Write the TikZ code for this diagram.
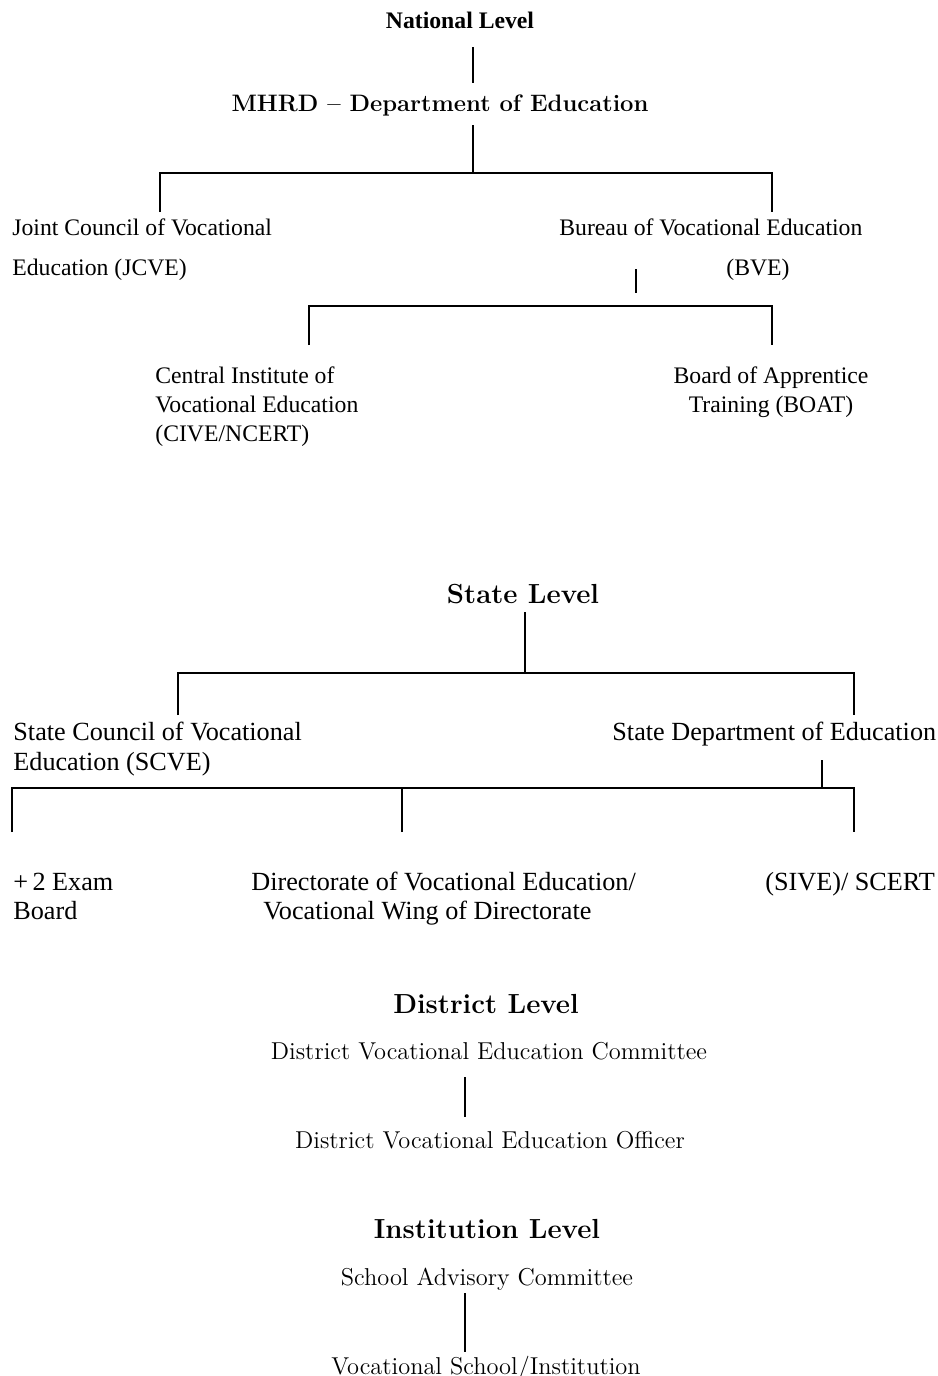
\documentclass[tikz,border=0pt]{standalone}
\usepackage{fontspec}
\newfontfamily\tnr{Liberation Serif}
\usetikzlibrary{positioning}
\tikzset{
  natbold/.style={font=\tnr\bfseries\fontsize{11.85}{14}\selectfont, inner sep=0pt},
  nattext/.style={font=\tnr\fontsize{11.85}{14.5}\selectfont, inner sep=0pt},
  sttext/.style={font=\tnr\fontsize{13.1}{14.5}\selectfont, inner sep=0pt},
  lvltitle/.style={font=\bfseries\fontsize{13.8}{16}\selectfont, inner sep=0pt},
  lmtext/.style={font=\fontsize{12.2}{14}\selectfont, inner sep=0pt},
  link/.style={line width=0.8pt},
  bar/.style={line width=1pt}
}
\begin{document}
\begin{tikzpicture}[x=0.5pt,y=-0.5pt]
\useasboundingbox (0,0) rectangle (937,1376);
% national level
\node[natbold,anchor=base] (nat) at (460,28) {National Level};
\node[font=\bfseries\fontsize{11.9}{14}\selectfont,inner sep=0pt,anchor=base] (mhrd) at (440,111) {MHRD -- Department of Education};
\node[nattext,anchor=base west,align=left,font=\tnr\fontsize{11.85}{20}\selectfont] (jcve) at (12,275) {Joint Council of Vocational\\Education (JCVE)};
\node[nattext,anchor=base west] (bve) at (559,235) {Bureau of Vocational Education};
\node[nattext,anchor=base west] (bveab) at (726,275) {(BVE)};
\node[nattext,anchor=base west,align=left] (cive) at (155,441) {Central Institute of\\Vocational Education\\(CIVE/NCERT)};
\node[nattext,anchor=base,align=center] (boat) at (771,412) {Board of Apprentice\\Training (BOAT)};
\coordinate (n1) at (473,47); \coordinate (n2) at (473,83);
\coordinate (n3) at (473,125); \coordinate (n4) at (473,173);
\coordinate (n5) at (160,212); \coordinate (n6) at (772,212);
\coordinate (b1) at (636,269); \coordinate (b2) at (636,293);
\coordinate (b3) at (636,306);
\coordinate (b4) at (309,345); \coordinate (b5) at (772,345);
\draw[link] (n1) -- (n2);
\draw[link] (n3) -- (n4);
\draw[bar] (n5) |- (n4) -| (n6);
\draw[link] (b1) -- (b2);
\draw[bar] (b4) |- (b3) -| (b5);
% state level
\node[lvltitle,anchor=base] (state) at (523,603) {State Level};
\node[sttext,anchor=base west,align=left,font=\tnr\fontsize{13.1}{15}\selectfont] (scve) at (13,770) {State Council of Vocational\\Education (SCVE)};
\node[sttext,anchor=base west] (sde) at (612,740) {State Department of Education};
\node[sttext,anchor=base west,align=left] (exam) at (13,919) {+\,2 Exam\\Board};
\node[sttext,anchor=base west,align=left] (dve) at (251,919) {Directorate of Vocational Education/\\\hspace*{6pt}Vocational Wing of Directorate};
\node[sttext,anchor=base west] (sive) at (765,890) {(SIVE)/ SCERT};
\coordinate (s1) at (525,612); \coordinate (s2) at (525,673);
\coordinate (s3) at (178,715); \coordinate (s4) at (854,715);
\coordinate (s5) at (822,760); \coordinate (s6) at (822,788);
\coordinate (s7) at (12,832); \coordinate (s8) at (854,832);
\coordinate (s9) at (402,832);
\draw[link] (s1) -- (s2);
\draw[bar] (s3) |- (s2) -| (s4);
\draw[link] (s5) -- (s6);
\draw[bar] (s7) |- (s6) -| (s8);
\draw[link] (s9) -- (s9 |- s6);
% district level
\node[lvltitle,anchor=base] (dist) at (486,1013) {District Level};
\node[lmtext,anchor=base] (dvec) at (489,1059) {District Vocational Education Committee};
\node[lmtext,anchor=base] (dveo) at (490,1148) {District Vocational Education Officer};
\coordinate (d1) at (465,1077); \coordinate (d2) at (465,1117);
\draw[link] (d1) -- (d2);
% institution level
\node[lvltitle,anchor=base] (inst) at (487,1238) {Institution Level};
\node[lmtext,anchor=base] (sac) at (487,1285) {School Advisory Committee};
\node[lmtext,anchor=base] (vsi) at (486,1374) {Vocational School/Institution};
\coordinate (i1) at (465,1293); \coordinate (i2) at (465,1352);
\draw[link] (i1) -- (i2);
\end{tikzpicture}
\end{document}
